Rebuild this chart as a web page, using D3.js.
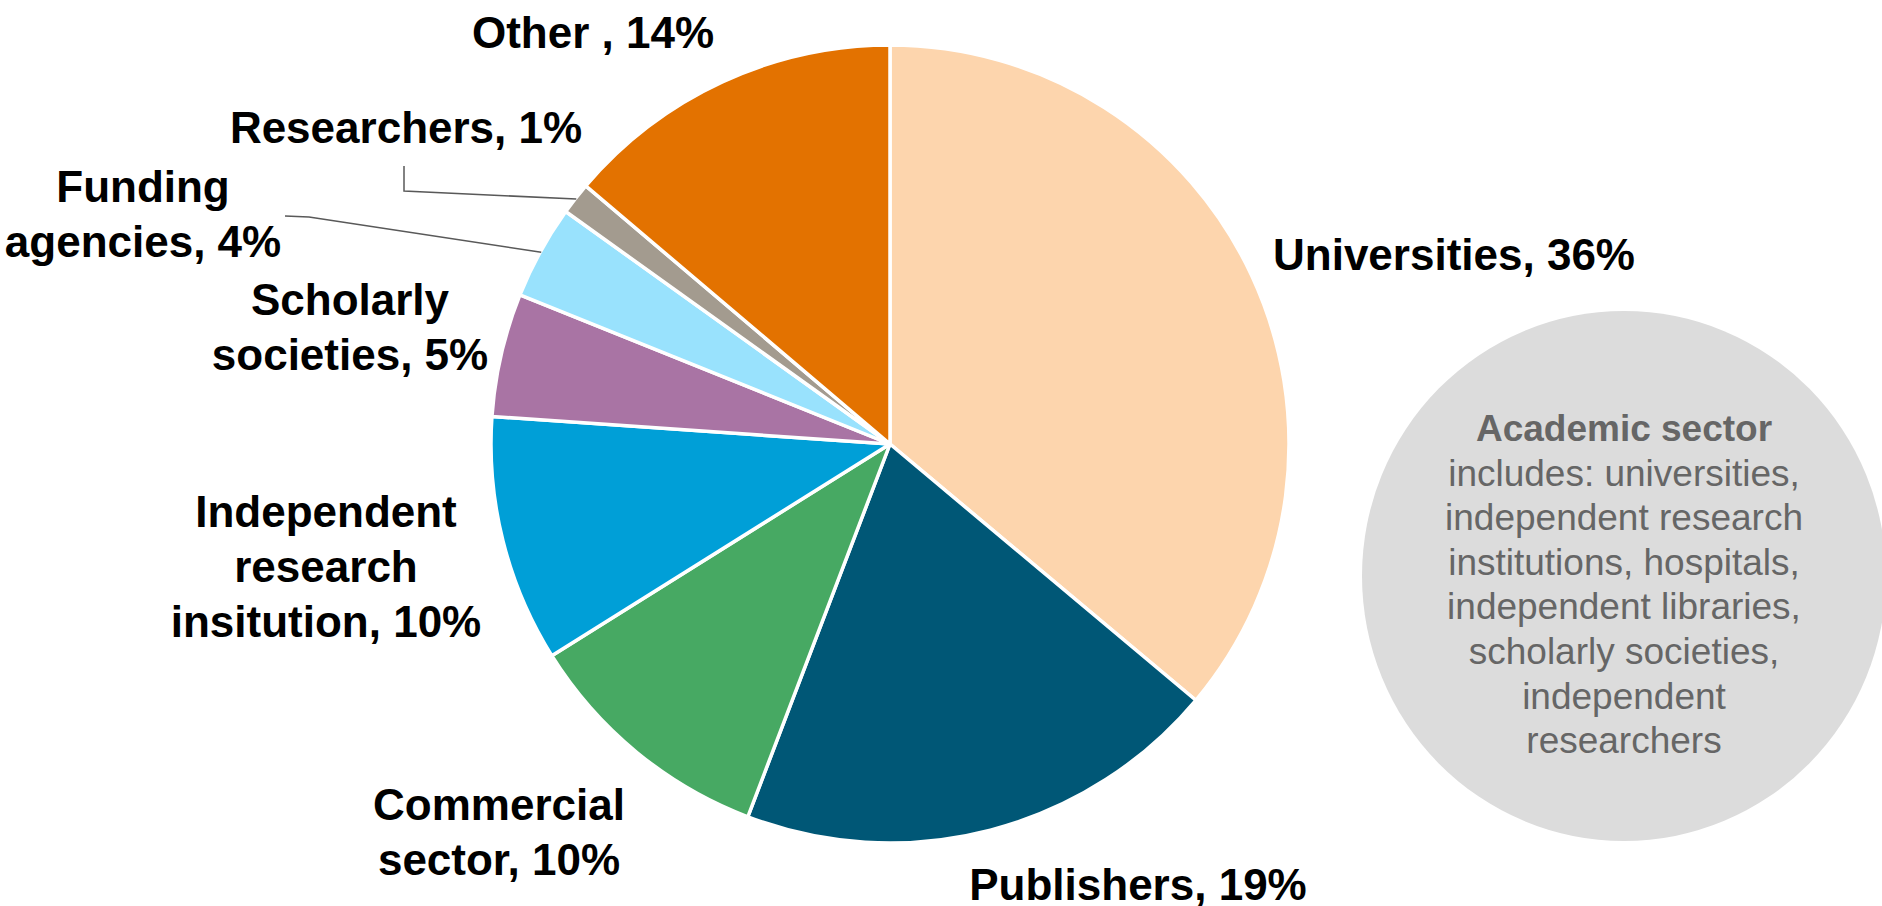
<!DOCTYPE html>
<html>
<head>
<meta charset="utf-8">
<script src="https://cdn.jsdelivr.net/npm/d3@7"></script>
<style>
  html, body { margin: 0; padding: 0; background: #ffffff; overflow: hidden; }
  svg { display: block; }
  text { font-family: "Liberation Sans", Arial, sans-serif; }
</style>
</head>
<body>
<svg id="chart" width="1882" height="906"></svg>
<script>
// ---- data ----
const categories = ["Universities", "Publishers", "Commercial sector", "Independent research insitution",
                    "Scholarly societies", "Funding agencies", "Researchers", "Other"];
const values = [36.1, 19.7, 10.3, 10.0, 5.0, 3.8, 1.3, 13.8];
const labelLines = [
  ["Universities, 36%"],
  ["Publishers, 19%"],
  ["Commercial", "sector, 10%"],
  ["Independent", "research", "insitution, 10%"],
  ["Scholarly", "societies, 5%"],
  ["Funding", "agencies, 4%"],
  ["Researchers, 1%"],
  ["Other , 14%"]
];
const colors = ["#FDD5AD", "#005776", "#47A963", "#009FD7", "#A974A4", "#99E2FD", "#A39B8F", "#E37200"];
const noteTitle = "Academic sector";
const noteLines = ["includes: universities,", "independent research", "institutions, hospitals,",
                   "independent libraries,", "scholarly societies,", "independent", "researchers"];

// ---- layout ----
const W = 1882, H = 906;
const cx = 890, cy = 444, R = 399;
const labelPos = [
  { x: 1454, y: 270 },
  { x: 1138, y: 900 },
  { x: 499, y: 820 },
  { x: 326, y: 527 },
  { x: 350, y: 315 },
  { x: 143, y: 202 },
  { x: 406, y: 143 },
  { x: 593, y: 48 }
];
const leaders = { 6: [[404, 166], [404, 191]], 5: [[285, 216], [309, 217]] };
const lineH = 55;

const svg = d3.select("#chart");

// note circle
const note = svg.append("g");
note.append("ellipse").attr("cx", 1624).attr("cy", 576).attr("rx", 262).attr("ry", 265).attr("fill", "#DCDCDC");
const noteText = note.append("text").attr("text-anchor", "middle").attr("fill", "#666666")
  .style("font-size", "37px");
noteText.append("tspan").attr("x", 1624).attr("y", 441).style("font-weight", "bold").text(noteTitle);
noteLines.forEach((l, i) => {
  noteText.append("tspan").attr("x", 1624).attr("y", 441 + 44.6 * (i + 1)).text(l);
});

// pie
const pie = d3.pie().sort(null).value(d => d).startAngle(0).endAngle(2 * Math.PI);
const arcs = pie(values);
const arc = d3.arc().innerRadius(0).outerRadius(R);
const g = svg.append("g").attr("transform", `translate(${cx},${cy})`);
g.selectAll("path").data(arcs).join("path")
  .attr("d", arc)
  .attr("fill", (d, i) => colors[i])
  .attr("stroke", "#ffffff")
  .attr("stroke-width", 3.5)
  .attr("stroke-linejoin", "round");

// leader lines
Object.keys(leaders).forEach(k => {
  const i = +k;
  const a = (arcs[i].startAngle + arcs[i].endAngle) / 2;
  const end = [cx + (R - 1) * Math.sin(a), cy - (R - 1) * Math.cos(a)];
  const pts = leaders[k].concat([end]);
  svg.append("path")
    .attr("d", d3.line()(pts))
    .attr("fill", "none")
    .attr("stroke", "#595959")
    .attr("stroke-width", 1.5);
});

// labels
labelLines.forEach((lines, i) => {
  const t = svg.append("text")
    .attr("text-anchor", "middle")
    .attr("fill", "#000000")
    .style("font-size", "44px")
    .style("font-weight", "bold");
  lines.forEach((l, j) => {
    t.append("tspan").attr("x", labelPos[i].x).attr("y", labelPos[i].y + j * lineH).text(l);
  });
});
</script>
</body>
</html>
